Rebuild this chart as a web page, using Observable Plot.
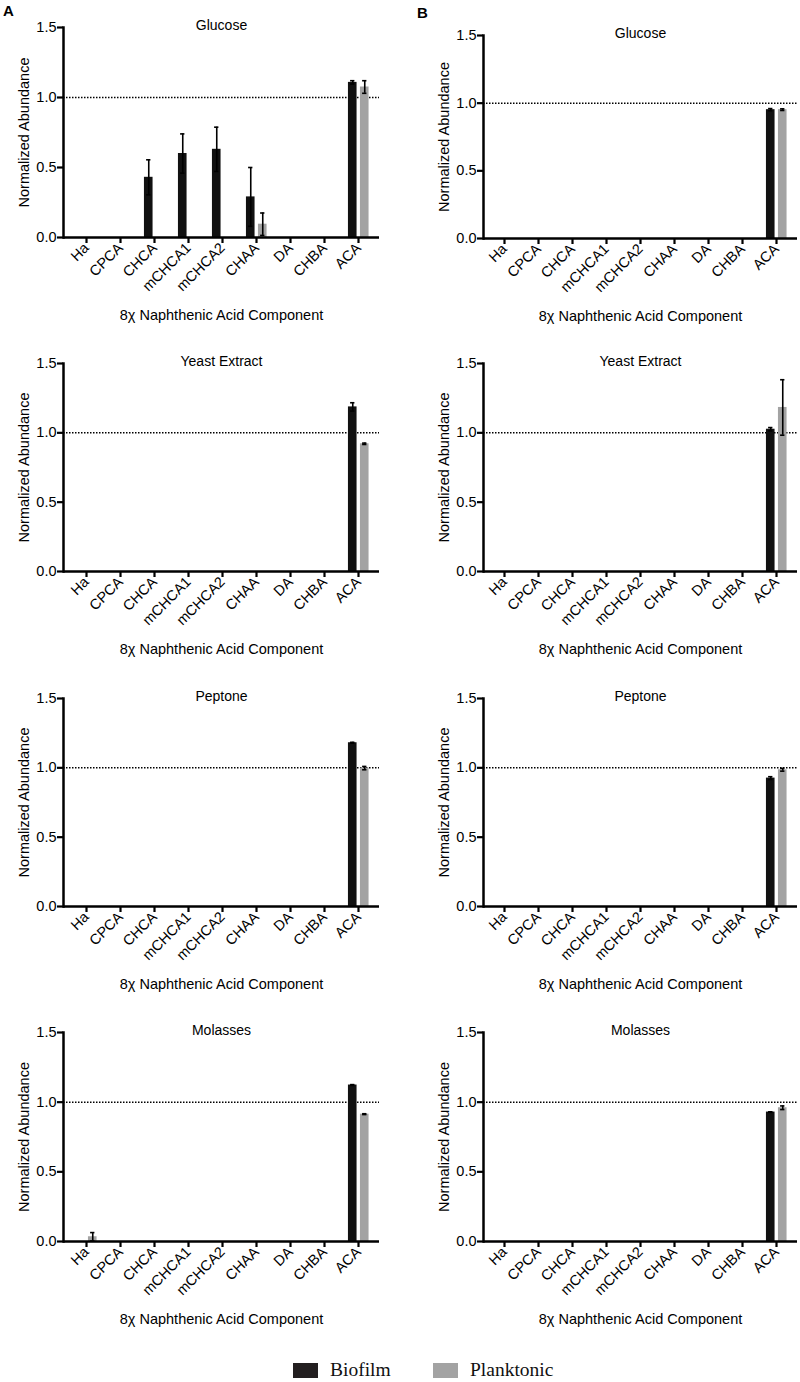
<!DOCTYPE html>
<html>
<head>
<meta charset="utf-8">
<script src="https://cdn.jsdelivr.net/npm/d3@7"></script>
<script src="https://cdn.jsdelivr.net/npm/@observablehq/plot@0.6"></script>
<style>
  html, body { margin: 0; padding: 0; background: #fff; }
  #wrap { position: relative; width: 800px; height: 1382px; overflow: hidden; font-family: "Liberation Sans", Arial, sans-serif; }
  .panel { position: absolute; }
  .panel svg { overflow: visible; }
  .letter { position: absolute; font-weight: bold; font-size: 15px; font-family: "Liberation Sans", Arial, sans-serif; }
  .leg { position: absolute; display: flex; align-items: center; font-family: "Liberation Serif", "DejaVu Serif", serif; font-size: 19.5px; color: #111; }
  .sw { width: 25px; height: 15px; margin-right: 12px; }
</style>
</head>
<body>
<div id="wrap"></div>
<script>
// ---------- data ----------
const components = ["Ha", "CPCA", "CHCA", "mCHCA1", "mCHCA2", "CHAA", "DA", "CHBA", "ACA"];
const seriesNames = ["Biofilm", "Planktonic"];
const media = ["Glucose", "Yeast Extract", "Peptone", "Molasses"];
const yTicks = [0, 0.5, 1.0, 1.5];
const xLabel = "8\u03C7 Naphthenic Acid Component";
const yLabel = "Normalized Abundance";

// Panel A (means and error)
const aGlucoseBiofilm     = [0, 0, 0.43, 0.60, 0.63, 0.29, 0, 0, 1.108];
const aGlucoseBiofilmErr  = [0, 0, 0.125, 0.14, 0.158, 0.21, 0, 0, 0.012];
const aGlucosePlank       = [0, 0, 0, 0, 0, 0.095, 0, 0, 1.075];
const aGlucosePlankErr    = [0, 0, 0, 0, 0, 0.08, 0, 0, 0.045];

const aYeastBiofilm       = [0, 0, 0, 0, 0, 0, 0, 0, 1.187];
const aYeastBiofilmErr    = [0, 0, 0, 0, 0, 0, 0, 0, 0.03];
const aYeastPlank         = [0, 0, 0, 0, 0, 0, 0, 0, 0.921];
const aYeastPlankErr      = [0, 0, 0, 0, 0, 0, 0, 0, 0.005];

const aPeptoneBiofilm     = [0, 0, 0, 0, 0, 0, 0, 0, 1.181];
const aPeptoneBiofilmErr  = [0, 0, 0, 0, 0, 0, 0, 0, 0.003];
const aPeptonePlank       = [0, 0, 0, 0, 0, 0, 0, 0, 0.998];
const aPeptonePlankErr    = [0, 0, 0, 0, 0, 0, 0, 0, 0.012];

const aMolassesBiofilm    = [0, 0, 0, 0, 0, 0, 0, 0, 1.123];
const aMolassesBiofilmErr = [0, 0, 0, 0, 0, 0, 0, 0, 0.003];
const aMolassesPlank      = [0.034, 0, 0, 0, 0, 0, 0, 0, 0.914];
const aMolassesPlankErr   = [0.03, 0, 0, 0, 0, 0, 0, 0, 0.003];

// Panel B
const bGlucoseBiofilm     = [0, 0, 0, 0, 0, 0, 0, 0, 0.952];
const bGlucoseBiofilmErr  = [0, 0, 0, 0, 0, 0, 0, 0, 0.008];
const bGlucosePlank       = [0, 0, 0, 0, 0, 0, 0, 0, 0.952];
const bGlucosePlankErr    = [0, 0, 0, 0, 0, 0, 0, 0, 0.006];

const bYeastBiofilm       = [0, 0, 0, 0, 0, 0, 0, 0, 1.026];
const bYeastBiofilmErr    = [0, 0, 0, 0, 0, 0, 0, 0, 0.012];
const bYeastPlank         = [0, 0, 0, 0, 0, 0, 0, 0, 1.183];
const bYeastPlankErr      = [0, 0, 0, 0, 0, 0, 0, 0, 0.2];

const bPeptoneBiofilm     = [0, 0, 0, 0, 0, 0, 0, 0, 0.926];
const bPeptoneBiofilmErr  = [0, 0, 0, 0, 0, 0, 0, 0, 0.01];
const bPeptonePlank       = [0, 0, 0, 0, 0, 0, 0, 0, 0.986];
const bPeptonePlankErr    = [0, 0, 0, 0, 0, 0, 0, 0, 0.01];

const bMolassesBiofilm    = [0, 0, 0, 0, 0, 0, 0, 0, 0.929];
const bMolassesBiofilmErr = [0, 0, 0, 0, 0, 0, 0, 0, 0.002];
const bMolassesPlank      = [0, 0, 0, 0, 0, 0, 0, 0, 0.96];
const bMolassesPlankErr   = [0, 0, 0, 0, 0, 0, 0, 0, 0.013];

// ---------- styling / layout ----------
const colors = { Biofilm: "#111111", Planktonic: "#a3a3a3" };
const legendColors = { Biofilm: "#231f20", Planktonic: "#a3a3a3" };
const colFrameLeft = [63, 483];
const colFrameRight = [379, 797];
const colInset = [2, 0];
const rowFrameTop = [[27, 35], [363, 363], [698, 698], [1032, 1032]];
const rowFrameBottom = [[237, 238], [571, 571], [906, 906], [1241, 1241]];

const panels = [
  { col: 0, row: 0, medium: media[0], bio: aGlucoseBiofilm, bioErr: aGlucoseBiofilmErr, pla: aGlucosePlank, plaErr: aGlucosePlankErr },
  { col: 1, row: 0, medium: media[0], bio: bGlucoseBiofilm, bioErr: bGlucoseBiofilmErr, pla: bGlucosePlank, plaErr: bGlucosePlankErr },
  { col: 0, row: 1, medium: media[1], bio: aYeastBiofilm, bioErr: aYeastBiofilmErr, pla: aYeastPlank, plaErr: aYeastPlankErr },
  { col: 1, row: 1, medium: media[1], bio: bYeastBiofilm, bioErr: bYeastBiofilmErr, pla: bYeastPlank, plaErr: bYeastPlankErr },
  { col: 0, row: 2, medium: media[2], bio: aPeptoneBiofilm, bioErr: aPeptoneBiofilmErr, pla: aPeptonePlank, plaErr: aPeptonePlankErr },
  { col: 1, row: 2, medium: media[2], bio: bPeptoneBiofilm, bioErr: bPeptoneBiofilmErr, pla: bPeptonePlank, plaErr: bPeptonePlankErr },
  { col: 0, row: 3, medium: media[3], bio: aMolassesBiofilm, bioErr: aMolassesBiofilmErr, pla: aMolassesPlank, plaErr: aMolassesPlankErr },
  { col: 1, row: 3, medium: media[3], bio: bMolassesBiofilm, bioErr: bMolassesBiofilmErr, pla: bMolassesPlank, plaErr: bMolassesPlankErr }
];

const wrap = document.getElementById("wrap");
const font = "'Liberation Sans', Arial, sans-serif";
const fs = 14.5;

for (const p of panels) {
  const left = p.col * 400;
  const W = 400;
  const mt = 24, mb = 100;
  const ft = rowFrameTop[p.row][p.col], fb = rowFrameBottom[p.row][p.col];
  const ml = colFrameLeft[p.col] - left;
  const mr = left + W - colFrameRight[p.col];
  const H = mt + (fb - ft) + mb;
  const inL = colInset[p.col];
  const bw = (W - ml - mr - inL) / components.length;

  const rows = components.flatMap((c, i) => [
    { component: c, series: "Biofilm", value: p.bio[i], err: p.bioErr[i] },
    { component: c, series: "Planktonic", value: p.pla[i], err: p.plaErr[i] }
  ]).filter(d => d.value > 0);
  const bio = rows.filter(d => d.series === "Biofilm");
  const pla = rows.filter(d => d.series === "Planktonic");

  // bar geometry relative to band centre
  const bioL = -10.5, bioR = -1, plaL = 1.5, plaR = 11;
  const bioC = (bioL + bioR) / 2, plaC = (plaL + plaR) / 2;
  const cap = 2.6;

  const errMarks = (data, c) => [
    Plot.ruleX(data, { x: "component", y1: d => d.value - d.err, y2: d => d.value + d.err, dx: c, stroke: "#000", strokeWidth: 1.6 }),
    Plot.tickY(data, { x: "component", y: d => d.value + d.err, stroke: "#000", strokeWidth: 1.6, insetLeft: bw / 2 + c - cap, insetRight: bw / 2 - c - cap }),
    Plot.tickY(data, { x: "component", y: d => d.value - d.err, stroke: "#000", strokeWidth: 1.6, insetLeft: bw / 2 + c - cap, insetRight: bw / 2 - c - cap })
  ];

  const chart = Plot.plot({
    width: W, height: H,
    marginTop: mt, marginBottom: mb, marginLeft: ml, marginRight: mr,
    style: { fontFamily: font, fontSize: fs + "px", color: "#000", background: "transparent", overflow: "visible" },
    x: { domain: components, padding: 0, insetLeft: inL },
    y: { domain: [0, 1.5] },
    marks: [
      Plot.ruleY([1], { stroke: "#000", strokeWidth: 1.5, strokeDasharray: "1.5,1.5" }),
      Plot.barY(bio, { x: "component", y: "value", fill: colors.Biofilm, insetLeft: bw / 2 + bioL, insetRight: bw / 2 - bioR }),
      Plot.barY(pla, { x: "component", y: "value", fill: colors.Planktonic, insetLeft: bw / 2 + plaL, insetRight: bw / 2 - plaR }),
      ...errMarks(bio, bioC),
      ...errMarks(pla, plaC),
      Plot.axisY({ ticks: yTicks, tickFormat: d3.format(".1f"), tickSize: 6, tickPadding: 1, strokeWidth: 2.2,
                   label: yLabel, labelAnchor: "center", labelOffset: 45, labelArrow: "none", fontSize: fs }),
      Plot.axisX({ tickRotate: -45, tickSize: 6, tickPadding: 2, strokeWidth: 2.2,
                   label: xLabel, labelAnchor: "center", labelOffset: 82, labelArrow: "none", fontSize: fs }),
      Plot.ruleY([0], { stroke: "#000", strokeWidth: 2.5 }),
      Plot.frame({ anchor: "left", stroke: "#000", strokeWidth: 2.5 }),
      Plot.text([p.medium], { frameAnchor: "top", lineAnchor: "middle", fontSize: 14, dy: -2 })
    ]
  });
  const div = document.createElement("div");
  div.className = "panel";
  div.style.left = left + "px";
  div.style.top = (ft - mt) + "px";
  div.appendChild(chart);
  wrap.appendChild(div);
}

// panel letters
[["A", 3, 2], ["B", 417, 4]].forEach(([t, x, y]) => {
  const d = document.createElement("div");
  d.className = "letter";
  d.textContent = t;
  d.style.left = x + "px";
  d.style.top = y + "px";
  wrap.appendChild(d);
});

// legend
const legendX = [293, 433];
seriesNames.forEach((s, i) => {
  const d = document.createElement("div");
  d.className = "leg";
  d.style.left = legendX[i] + "px";
  d.style.top = "1359px";
  const sw = document.createElement("div");
  sw.className = "sw";
  sw.style.background = legendColors[s];
  const t = document.createElement("span");
  t.textContent = s;
  d.appendChild(sw);
  d.appendChild(t);
  wrap.appendChild(d);
});
</script>
</body>
</html>
